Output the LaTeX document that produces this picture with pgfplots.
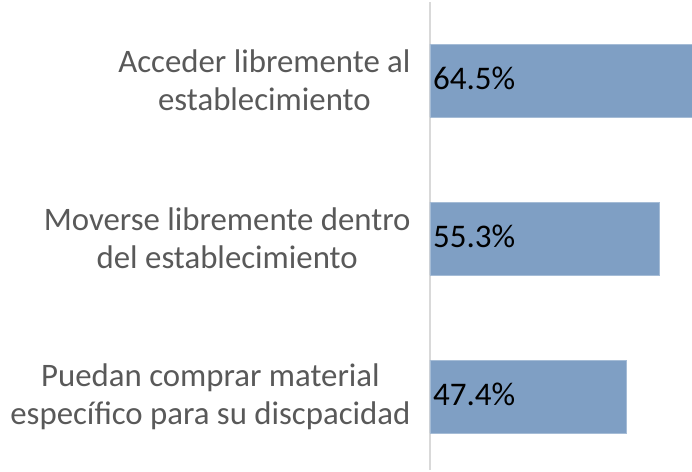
\documentclass[border=0pt]{standalone}
\usepackage{pgfplots}
\pgfplotsset{compat=1.18}
\usepackage{pgfplotstable}
\usepackage{fontspec}
\setmainfont{Carlito}
\definecolor{barblue}{RGB}{127,159,196}
\definecolor{labgray}{RGB}{89,89,89}
\definecolor{axgray}{RGB}{217,217,217}
\pgfplotstableread{
y val
2 64.5
1 55.3
0 47.4
}\data
\begin{document}
\begin{tikzpicture}
\begin{axis}[
  name=ax,
  scale only axis,
  width=262pt, height=468pt,
  xmin=0, xmax=63.2,
  ymin=-0.465, ymax=2.497,
  axis x line=none,
  axis y line*=left,
  axis line style={axgray, line width=1.5pt, -},
  ytick={0,1,2},
  yticklabels={{Puedan comprar material\\específico para su discpacidad},
               {Moverse libremente dentro\\del establecimiento},
               {Acceder libremente al\\establecimiento}},
  yticklabel style={align=center, text=labgray, font=\fontsize{32.8}{38}\selectfont, xshift=-16pt},
  major tick length=0pt,
  /pgf/number format/assume math mode=true,
  xbar, bar width=0.462,
  clip=true,
]
\addplot[fill=barblue, draw=barblue!70!white, line width=0.6pt, bar shift=0pt] table[x=val, y=y] {\data};
\addplot[draw=none, mark=none, xbar=0pt, bar width=0, forget plot,
  nodes near coords={\pgfmathprintnumber[fixed, precision=1, fixed zerofill, assume math mode=true]{\pgfplotspointmeta}\%},
  nodes near coords align={anchor=west},
  every node near coord/.append style={font=\fontsize{33}{38}\selectfont, text=black, anchor=west, xshift=3pt, inner sep=0pt},
  point meta=\thisrow{val}]
  table[x expr=0, y=y] {\data};
\end{axis}
\path ([xshift=-430pt, yshift=-1pt]ax.south west) rectangle ([yshift=2pt]ax.north east);
\end{tikzpicture}
\end{document}
